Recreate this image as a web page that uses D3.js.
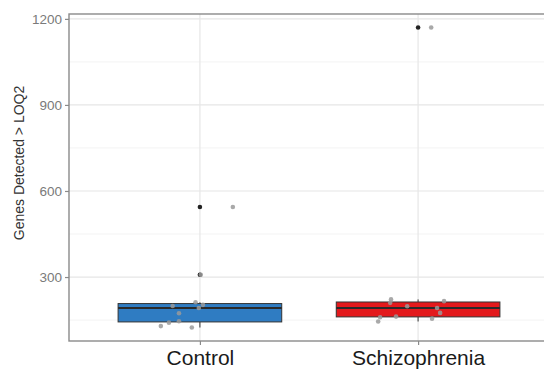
<!DOCTYPE html>
<html>
<head>
<meta charset="utf-8">
<script src="https://cdn.jsdelivr.net/npm/d3@7"></script>
<style>
  body { margin: 0; background: #fff; }
  svg { display: block; font-family: "Liberation Sans", Arial, sans-serif; }
</style>
</head>
<body>
<svg id="chart" width="544" height="375"></svg>
<script>
// groups on the x axis
const groups = ['Control', 'Schizophrenia'];
const groupColors = ['#2f7cc2', '#e3191c'];

// genes detected per sample
const controlValues = [199, 212, 203, 192, 174, 146, 141, 129, 124, 544, 308];
const schizoValues = [222, 210, 198, 216, 192, 175, 155, 162, 160, 145, 1170];

// horizontal jitter of each sample (in category widths)
const controlJitter = [-0.125, -0.02, 0.014, -0.005, -0.096, -0.096, -0.142, -0.179, -0.037, 0.151, 0.004];
const schizoJitter = [-0.124, -0.128, -0.05, 0.119, 0.087, 0.101, 0.064, -0.101, -0.174, -0.183, 0.06];

const yTicks = [300, 600, 900, 1200];
const yMinorTicks = [150, 450, 750, 1050];

const samples = [controlValues, schizoValues];
const jitters = [controlJitter, schizoJitter];

const svg = d3.select('#chart');
// panel area (right edge runs past the window like the original crop)
const panel = { left: 69, top: 14, right: 549, bottom: 341 };

// discrete scale, ggplot style: 0.6 of a step on each side
const step = (panel.right - panel.left) / 2.2;
const x = d3.scalePoint().domain(groups)
  .range([panel.left + 0.6 * step, panel.right - 0.6 * step]).padding(0);

const y = d3.scaleLinear().domain([77, 1217]).range([panel.bottom, panel.top]);

// grid
const grid = svg.append('g');
grid.selectAll('.minor').data(yMinorTicks).enter().append('line')
  .attr('x1', panel.left).attr('x2', panel.right)
  .attr('y1', d => y(d)).attr('y2', d => y(d))
  .attr('stroke', '#f3f3f3').attr('stroke-width', 1);
grid.selectAll('.major').data(yTicks).enter().append('line')
  .attr('x1', panel.left).attr('x2', panel.right)
  .attr('y1', d => y(d)).attr('y2', d => y(d))
  .attr('stroke', '#e6e6e6').attr('stroke-width', 1.2);
grid.selectAll('.vx').data(groups).enter().append('line')
  .attr('x1', d => x(d)).attr('x2', d => x(d))
  .attr('y1', panel.top).attr('y2', panel.bottom)
  .attr('stroke', '#e6e6e6').attr('stroke-width', 1.2);

// boxplots
const boxW = 0.75 * step;
groups.forEach(function (g, i) {
  const vals = samples[i].slice().sort(d3.ascending);
  const q1 = d3.quantile(vals, 0.25);
  const med = d3.quantile(vals, 0.5);
  const q3 = d3.quantile(vals, 0.75);
  const iqr = q3 - q1;
  const lo = d3.min(vals.filter(v => v >= q1 - 1.5 * iqr));
  const hi = d3.max(vals.filter(v => v <= q3 + 1.5 * iqr));
  const cx = x(g);
  const bg = svg.append('g');
  bg.append('line').attr('x1', cx).attr('x2', cx).attr('y1', y(q3)).attr('y2', y(hi))
    .attr('stroke', '#333').attr('stroke-width', 1);
  bg.append('line').attr('x1', cx).attr('x2', cx).attr('y1', y(q1)).attr('y2', y(lo))
    .attr('stroke', '#333').attr('stroke-width', 1);
  bg.append('rect')
    .attr('x', cx - boxW / 2).attr('width', boxW)
    .attr('y', y(q3)).attr('height', y(q1) - y(q3))
    .attr('fill', groupColors[i]).attr('stroke', '#333').attr('stroke-width', 1);
  bg.append('line').attr('x1', cx - boxW / 2).attr('x2', cx + boxW / 2)
    .attr('y1', y(med)).attr('y2', y(med))
    .attr('stroke', '#2a2a2a').attr('stroke-width', 2);
  // outliers
  bg.selectAll('circle').data(vals.filter(v => v < lo || v > hi)).enter().append('circle')
    .attr('cx', cx).attr('cy', d => y(d)).attr('r', 2.3).attr('fill', '#222');
});

// jittered points
groups.forEach(function (g, i) {
  svg.append('g').selectAll('circle').data(samples[i]).enter().append('circle')
    .attr('cx', (d, j) => x(g) + jitters[i][j] * step)
    .attr('cy', d => y(d))
    .attr('r', 2.3)
    .attr('fill', '#9a9a9a').attr('fill-opacity', 0.85);
});

// panel border
svg.append('rect')
  .attr('x', panel.left).attr('y', panel.top)
  .attr('width', panel.right - panel.left).attr('height', panel.bottom - panel.top)
  .attr('fill', 'none').attr('stroke', '#8a8a8a').attr('stroke-width', 1.4);

// y axis
const yAxis = svg.append('g').attr('transform', 'translate(' + panel.left + ',0)')
  .call(d3.axisLeft(y).tickValues(yTicks).tickFormat(d3.format('d')).tickSize(4).tickPadding(3));
yAxis.select('.domain').remove();
yAxis.selectAll('.tick line').attr('stroke', '#8a8a8a').attr('stroke-width', 1.2);
yAxis.selectAll('.tick text').attr('fill', '#7a7a7a').style('font-size', '13.5px')
  .style('font-family', '"Liberation Sans", Arial, sans-serif');

// x axis
const xAxis = svg.append('g').attr('transform', 'translate(0,' + panel.bottom + ')')
  .call(d3.axisBottom(x).tickSize(4).tickPadding(5));
xAxis.select('.domain').remove();
xAxis.selectAll('.tick line').attr('stroke', '#8a8a8a').attr('stroke-width', 1.2);
xAxis.selectAll('.tick text').attr('fill', '#1a1a1a').style('font-size', '21px')
  .style('font-family', '"Liberation Sans", Arial, sans-serif');

// y title
svg.append('text')
  .attr('transform', 'translate(24,163) rotate(-90)')
  .attr('text-anchor', 'middle')
  .attr('fill', '#333')
  .style('font-size', '14px')
  .text('Genes Detected > LOQ2');
</script>
</body>
</html>
